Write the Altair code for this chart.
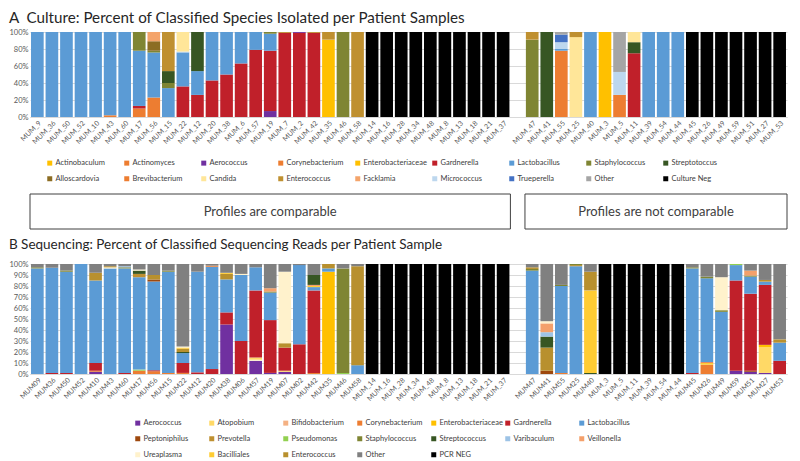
import altair as alt
import pandas as pd

# ---------------- Panel A: culture ----------------
culture_left = ["MUM_9", "MUM_36", "MUM_50", "MUM_52", "MUM_10", "MUM_43", "MUM_60", "MUM_17",
                "MUM_56", "MUM_15", "MUM_22", "MUM_12", "MUM_20", "MUM_38", "MUM_6", "MUM_57",
                "MUM_19", "MUM_7", "MUM_2", "MUM_42", "MUM_35", "MUM_46", "MUM_58", "MUM_14",
                "MUM_16", "MUM_28", "MUM_34", "MUM_48", "MUM_8", "MUM_13", "MUM_18", "MUM_21", "MUM_37"]
culture_right = ["MUM_47", "MUM_41", "MUM_55", "MUM_25", "MUM_40", "MUM_3", "MUM_5", "MUM_11",
                 "MUM_39", "MUM_54", "MUM_44", "MUM_45", "MUM_26", "MUM_49", "MUM_59", "MUM_51",
                 "MUM_27", "MUM_53"]

NEG_A = [("Culture Neg", 100)]
LAC = [("Lactobacillus", 100)]
culture_left_profiles = [
    LAC, LAC, LAC, LAC, LAC,
    [("Brevibacterium", 2), ("Lactobacillus", 98)],
    LAC,
    [("Corynebacterium", 10), ("Gardnerella", 3), ("Lactobacillus", 65), ("Staphylococcus", 22)],
    [("Brevibacterium", 23), ("Lactobacillus", 53), ("Staphylococcus", 2), ("Alloscardovia", 11), ("Facklamia", 11)],
    [("Lactobacillus", 34), ("Staphylococcus", 6), ("Streptotoccus", 14), ("Enterococcus", 46)],
    [("Gardnerella", 36), ("Lactobacillus", 40), ("Micrococcus", 1), ("Candida", 23)],
    [("Gardnerella", 26), ("Lactobacillus", 28), ("Streptotoccus", 46)],
    [("Gardnerella", 43), ("Lactobacillus", 57)],
    [("Gardnerella", 50), ("Lactobacillus", 50)],
    [("Gardnerella", 63), ("Lactobacillus", 37)],
    [("Gardnerella", 79), ("Lactobacillus", 21)],
    [("Aerococcus", 7), ("Gardnerella", 71), ("Lactobacillus", 20), ("Staphylococcus", 2)],
    [("Gardnerella", 99), ("Enterococcus", 1)],
    [("Gardnerella", 99), ("Aerococcus", 1)],
    [("Gardnerella", 99), ("Enterococcus", 1)],
    [("Enterobacteriaceae", 91), ("Enterococcus", 9)],
    [("Staphylococcus", 100)],
    [("Enterococcus", 100)],
] + [NEG_A] * 10
culture_right_profiles = [
    [("Staphylococcus", 91), ("Enterococcus", 9)],
    [("Streptotoccus", 100)],
    [("Corynebacterium", 78), ("Lactobacillus", 2), ("Micrococcus", 8), ("Trueperella", 9), ("Other", 3)],
    [("Candida", 94), ("Enterococcus", 6)],
    LAC,
    [("Actinobaculum", 100)],
    [("Corynebacterium", 26), ("Micrococcus", 27), ("Other", 47)],
    [("Gardnerella", 75), ("Streptotoccus", 13), ("Candida", 12)],
    LAC, LAC, LAC,
] + [NEG_A] * 7

legend_a = ["Actinobaculum", "Actinomyces", "Aerococcus", "Corynebacterium", "Enterobacteriaceae",
            "Gardnerella", "Lactobacillus", "Staphylococcus", "Streptotoccus",
            "Alloscardovia", "Brevibacterium", "Candida", "Enterococcus", "Facklamia",
            "Micrococcus", "Trueperella", "Other", "Culture Neg"]
colors_a = ["#FFC000", "#ED7D31", "#7030A0", "#ED7D31", "#FFC000",
            "#C0202A", "#5B9BD5", "#7F8533", "#375623",
            "#8C6D23", "#ED7D31", "#FFE699", "#BF9030", "#F4A46B",
            "#BDD7EE", "#4472C4", "#A5A5A5", "#000000"]

# ---------------- Panel B: sequencing ----------------
seq_left = ["MUM09", "MUM36", "MUM50", "MUM52", "MUM10", "MUM43", "MUM60", "MUM17", "MUM56",
            "MUM15", "MUM22", "MUM12", "MUM20", "MUM38", "MUM06", "MUM57", "MUM19", "MUM07",
            "MUM02", "MUM42", "MUM35", "MUM46", "MUM58", "MUM_14", "MUM_16", "MUM_28",
            "MUM_34", "MUM_48", "MUM_8", "MUM_13", "MUM_18", "MUM_21", "MUM_37"]
seq_right = ["MUM47", "MUM41", "MUM55", "MUM25", "MUM40", "MUM_3", "MUM_5", "MUM_11", "MUM_39",
             "MUM_54", "MUM_44", "MUM45", "MUM26", "MUM49", "MUM59", "MUM51", "MUM27", "MUM53"]

NEG_B = [("PCR NEG", 100)]
seq_left_profiles = [
    [("Lactobacillus", 96), ("Staphylococcus", 1), ("Other", 3)],
    [("Gardnerella", 1), ("Lactobacillus", 95.5), ("Other", 3.5)],
    [("Gardnerella", 1), ("Lactobacillus", 92), ("Staphylococcus", 1), ("Other", 6)],
    [("Lactobacillus", 100)],
    [("Aerococcus", 2), ("Corynebacterium", 1), ("Gardnerella", 7), ("Lactobacillus", 75), ("Enterococcus", 7), ("Other", 8)],
    [("Lactobacillus", 96), ("Ureaplasma", 1), ("Enterococcus", 1), ("Other", 2)],
    [("Gardnerella", 1), ("Lactobacillus", 95), ("Staphylococcus", 1), ("Varibaculum", 1), ("Other", 2)],
    [("Corynebacterium", 3), ("Pseudomonas", 1), ("Lactobacillus", 84), ("Prevotella", 3), ("Streptococcus", 3), ("Ureaplasma", 1), ("Other", 5)],
    [("Corynebacterium", 2.5), ("Gardnerella", 1), ("Lactobacillus", 80.5), ("Peptoniphilus", 2), ("Enterococcus", 4), ("Other", 10)],
    [("Corynebacterium", 1), ("Lactobacillus", 92), ("Staphylococcus", 1), ("Other", 6)],
    [("Corynebacterium", 1), ("Gardnerella", 9), ("Lactobacillus", 9), ("Streptococcus", 1), ("Enterococcus", 3), ("Bacilliales", 1), ("Ureaplasma", 1), ("Other", 75)],
    [("Gardnerella", 1.5), ("Lactobacillus", 91.5), ("Other", 7)],
    [("Gardnerella", 4.5), ("Lactobacillus", 93), ("Corynebacterium", 1), ("Other", 1.5)],
    [("Aerococcus", 45), ("Gardnerella", 11), ("Lactobacillus", 30), ("Enterococcus", 5), ("Bacilliales", 1), ("Other", 8)],
    [("Gardnerella", 30), ("Lactobacillus", 60), ("Ureaplasma", 1), ("Other", 9)],
    [("Aerococcus", 12), ("Ureaplasma", 1), ("Atopobium", 2), ("Gardnerella", 61), ("Lactobacillus", 21), ("Other", 3)],
    [("Aerococcus", 1), ("Gardnerella", 48), ("Lactobacillus", 25), ("Staphylococcus", 1), ("Veillonella", 3), ("Other", 22)],
    [("Aerococcus", 2), ("Atopobium", 1), ("Gardnerella", 21), ("Enterococcus", 4), ("Ureaplasma", 65), ("Other", 7)],
    [("Gardnerella", 27), ("Lactobacillus", 72), ("Other", 1)],
    [("Corynebacterium", 1), ("Gardnerella", 75), ("Lactobacillus", 3), ("Bacilliales", 1), ("Veillonella", 1), ("Streptococcus", 9), ("Other", 10)],
    [("Enterobacteriaceae", 93), ("Lactobacillus", 3), ("Enterococcus", 4)],
    [("Pseudomonas", 1), ("Staphylococcus", 95), ("Other", 4)],
    [("Lactobacillus", 8), ("Enterococcus", 90), ("Other", 2)],
] + [NEG_B] * 10
seq_right_profiles = [
    [("Lactobacillus", 94), ("Staphylococcus", 1.5), ("Enterococcus", 1.5), ("Other", 3)],
    [("Peptoniphilus", 3), ("Enterococcus", 21), ("Streptococcus", 10), ("Varibaculum", 4), ("Veillonella", 8), ("Ureaplasma", 2), ("Other", 52)],
    [("Corynebacterium", 1), ("Lactobacillus", 79), ("Staphylococcus", 1), ("Other", 19)],
    [("Lactobacillus", 98), ("Enterococcus", 1), ("Staphylococcus", 1)],
    [("Streptococcus", 1), ("Bacilliales", 75), ("Enterococcus", 17), ("Other", 7)],
] + [NEG_B] * 6 + [
    [("Gardnerella", 1), ("Lactobacillus", 95), ("Staphylococcus", 1), ("Other", 3)],
    [("Corynebacterium", 8.5), ("Bacilliales", 2), ("Gardnerella", 0.5), ("Lactobacillus", 76), ("Staphylococcus", 1.5), ("Other", 11.5)],
    [("Lactobacillus", 56.5), ("Staphylococcus", 1.5), ("Ureaplasma", 30), ("Other", 12)],
    [("Aerococcus", 3), ("Gardnerella", 82), ("Lactobacillus", 14), ("Pseudomonas", 1)],
    [("Aerococcus", 2), ("Peptoniphilus", 1), ("Gardnerella", 70), ("Lactobacillus", 15.5), ("Staphylococcus", 1), ("Veillonella", 4.5), ("Other", 6)],
    [("Aerococcus", 1), ("Atopobium", 23.5), ("Enterobacteriaceae", 2), ("Gardnerella", 54.5), ("Lactobacillus", 3), ("Enterococcus", 1.5), ("Other", 14.5)],
    [("Gardnerella", 12), ("Lactobacillus", 16.5), ("Enterococcus", 3), ("Other", 68.5)],
]

legend_b = ["Aerococcus", "Atopobium", "Bifidobacterium", "Corynebacterium", "Enterobacteriaceae",
            "Gardnerella", "Lactobacillus", "Peptoniphilus", "Prevotella", "Pseudomonas",
            "Staphylococcus", "Streptococcus", "Varibaculum", "Veillonella",
            "Ureaplasma", "Bacilliales", "Enterococcus", "Other", "PCR NEG"]
colors_b = ["#7030A0", "#FFD966", "#F4B183", "#ED7D31", "#FFC000",
            "#C0202A", "#5B9BD5", "#9E480E", "#BF9030", "#92D050",
            "#7F8533", "#375623", "#9DC3E6", "#F4A06B",
            "#FFF2CC", "#FFCC33", "#B8902E", "#808080", "#000000"]

box_labels = ["Profiles are comparable", "Profiles are not comparable"]

title_a = "A\u00a0\u00a0Culture: Percent of Classified Species Isolated per Patient Samples"
title_b = "B Sequencing: Percent of Classified Sequencing Reads per Patient Sample"

SPACER = " "
FONT = "Lato"
PLOT_W = 757


def build_frame(left, left_prof, right, right_prof):
    rows = []
    for names, profs in ((left, left_prof), (right, right_prof)):
        for name, prof in zip(names, profs):
            for i, (g, v) in enumerate(prof):
                rows.append({"sample": name, "genus": g, "value": v, "order": i})
    return pd.DataFrame(rows)


def panel(df, domain, legend_dom, legend_rng, title, tsize, toffset, height, ticks,
          leg_x, leg_y, cols, colpad, rowpad):
    return alt.Chart(df).mark_bar().encode(
        x=alt.X("sample:N", sort=domain,
                scale=alt.Scale(domain=domain, paddingInner=0.13, paddingOuter=0.07),
                axis=alt.Axis(title=None, labelAngle=-45, labelFontSize=7, labelColor="#595959",
                              labelFont=FONT, ticks=False, domainColor="#D9D9D9", labelPadding=2)),
        y=alt.Y("value:Q", stack="normalize", scale=alt.Scale(domain=[0, 1]),
                axis=alt.Axis(title=None, values=ticks, format=".0%", grid=True, gridColor="#D9D9D9",
                              domain=False, ticks=False, labelFontSize=7.5, labelColor="#595959",
                              labelFont=FONT, labelPadding=2)),
        color=alt.Color("genus:N", scale=alt.Scale(domain=legend_dom, range=legend_rng),
                        legend=alt.Legend(title=None, orient="none", legendX=leg_x, legendY=leg_y,
                                          columns=cols, direction="horizontal", gridAlign="all",
                                          symbolType="square", symbolSize=25, symbolStrokeWidth=0,
                                          labelFontSize=7.5, labelFont=FONT, labelColor="#404040",
                                          labelOffset=2, columnPadding=colpad, rowPadding=rowpad,
                                          labelLimit=120)),
        order=alt.Order("order:Q", sort="ascending"),
    ).properties(
        width=PLOT_W, height=height,
        title=alt.TitleParams(title, anchor="start", fontSize=tsize, font=FONT, fontWeight="normal",
                              color="#262626", offset=toffset),
    )


df_a = build_frame(culture_left, culture_left_profiles, culture_right, culture_right_profiles)
dom_a = culture_left + [SPACER] + culture_right
chart_a = panel(df_a, dom_a, legend_a, colors_a, title_a, 15.2, 2, 85,
                [0, 0.2, 0.4, 0.6, 0.8, 1.0], 16, 127, 9, 4, 7)

df_b = build_frame(seq_left, seq_left_profiles, seq_right, seq_right_profiles)
dom_b = seq_left + [SPACER] + seq_right
chart_b = panel(df_b, dom_b, legend_b, colors_b, title_b, 13.5, 9, 110,
                [i / 10 for i in range(11)], 104, 155, 7, 1, 7)

# boxes spanning the two sample groups
n_slots = len(dom_a)
box_df = pd.DataFrame({
    "label": box_labels,
    "start": [0, len(culture_left) + 1],
    "end": [len(culture_left), n_slots],
})
box_df["mid"] = (box_df["start"] + box_df["end"]) / 2
xs = alt.Scale(domain=[0, n_slots], nice=False, zero=False)
box_rect = alt.Chart(box_df).mark_rect(fill="white", stroke="#404040", strokeWidth=1).encode(
    x=alt.X("start:Q", scale=xs, axis=None), x2="end", y=alt.value(42), y2=alt.value(77))
box_text = alt.Chart(box_df).mark_text(fontSize=13, font=FONT, color="#404040").encode(
    x=alt.X("mid:Q", scale=xs, axis=None), y=alt.value(59.5), text="label:N")
boxes = alt.layer(box_rect, box_text).properties(width=PLOT_W, height=77)

chart = alt.vconcat(chart_a, boxes, chart_b, spacing=35, bounds="flush").resolve_scale(
    color="independent", x="independent", y="independent"
).properties(padding={"top": 2, "left": 0, "right": 0, "bottom": 0}).configure_view(stroke=None)

chart.save("out.html", embed_options={"renderer": "svg", "actions": False})
